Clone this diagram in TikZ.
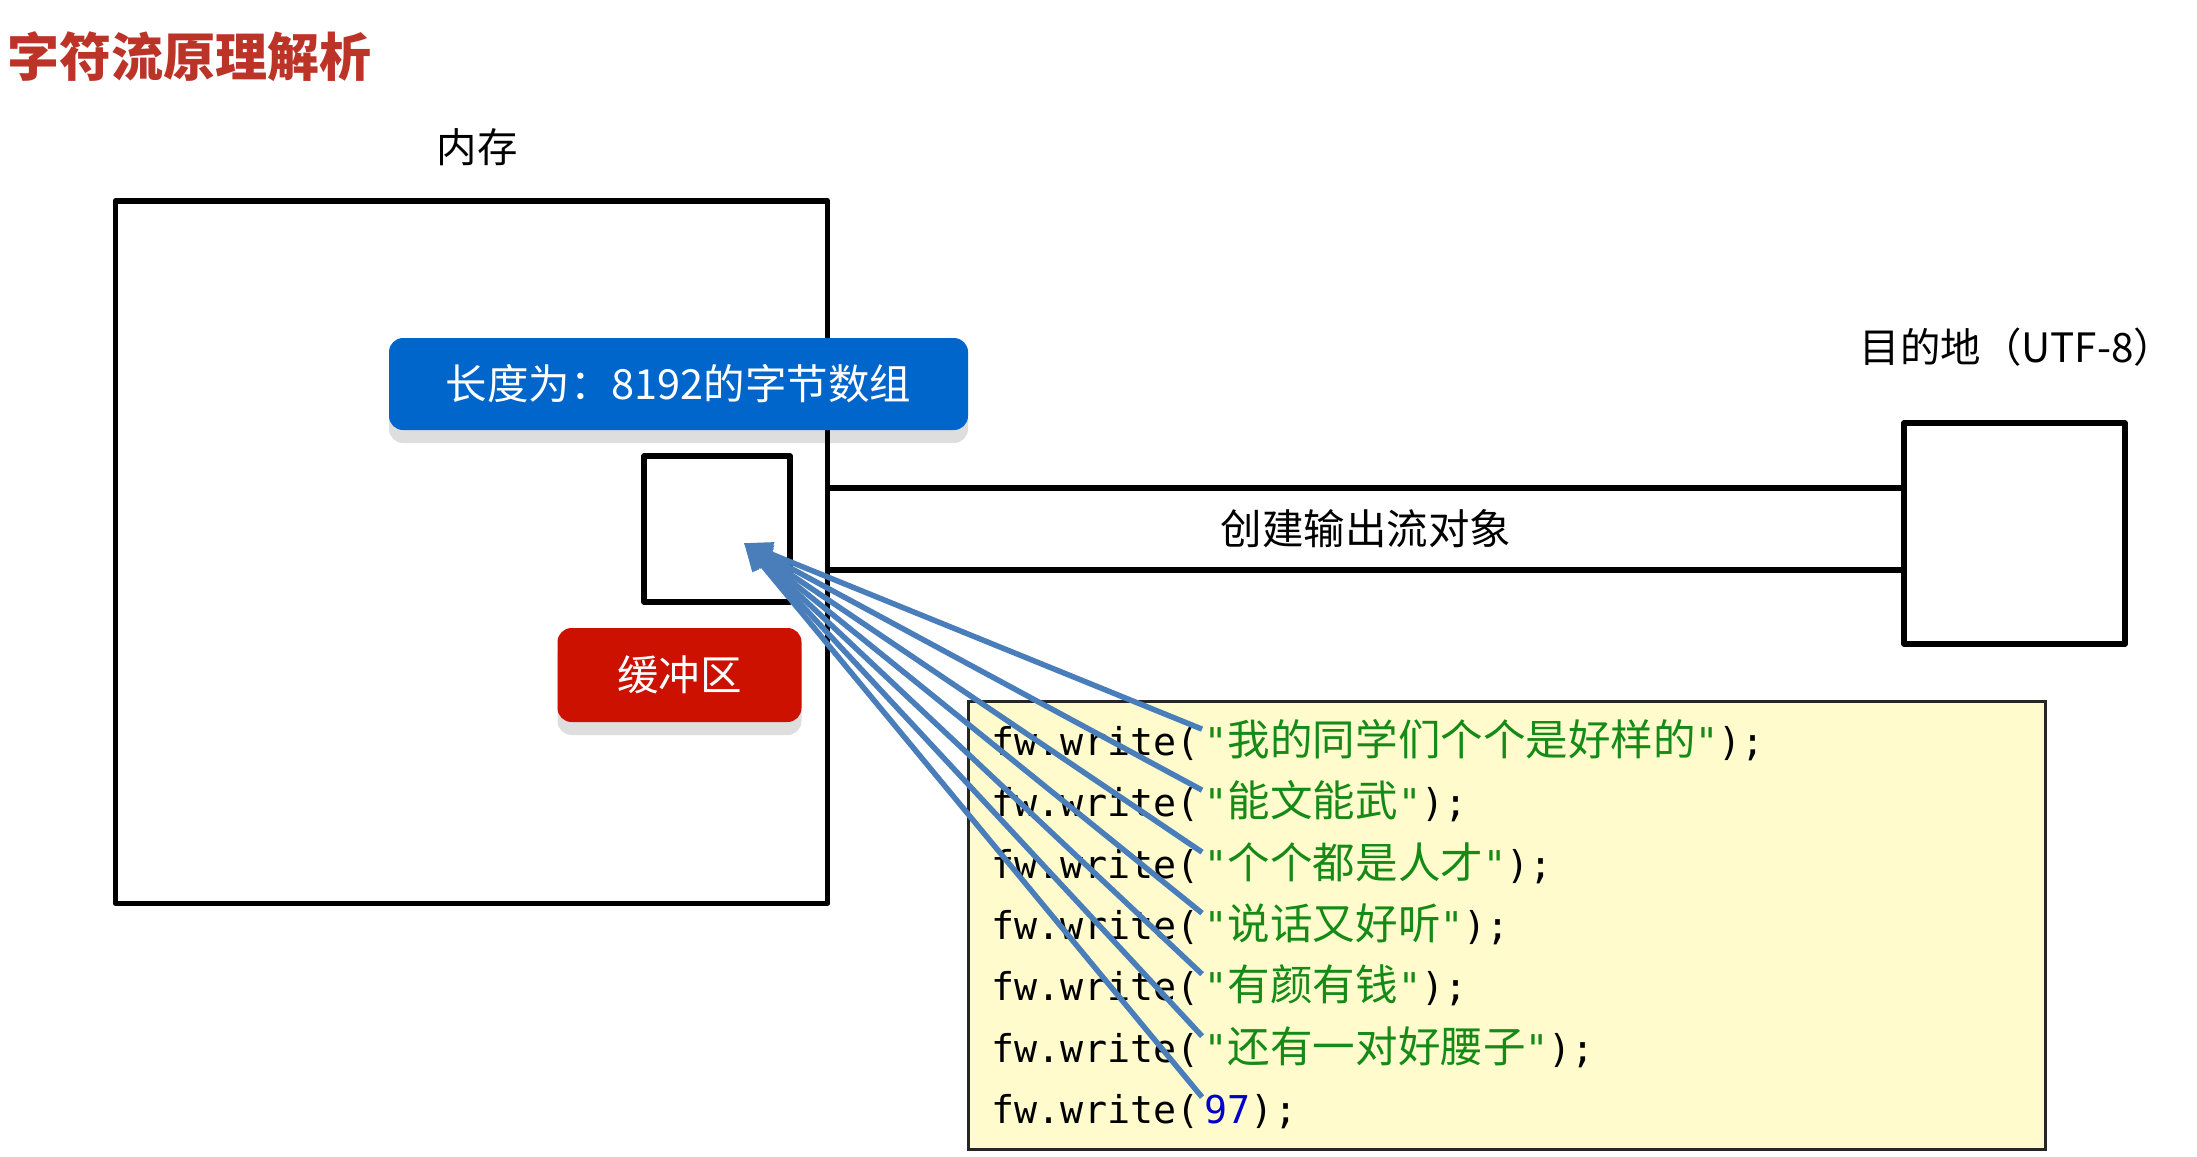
\documentclass[tikz,border=0pt]{standalone}
\usepackage{fontspec}
\setmainfont{Noto Sans CJK SC}
\setmonofont{DejaVu Sans Mono}
\newfontfamily\cjk{Noto Sans CJK SC}
\usetikzlibrary{arrows.meta, shadows}
\definecolor{cred}{HTML}{BC3328}
\definecolor{cblue}{HTML}{0066CC}
\definecolor{cbuf}{HTML}{CC1100}
\definecolor{cline}{HTML}{4A7EBB}
\definecolor{ccode}{HTML}{FFFBCC}
\definecolor{cstr}{HTML}{168A16}
\definecolor{cnum}{HTML}{0000C8}
\newcommand{\strlit}[1]{\textcolor{cstr}{"{\cjk\fontsize{12.1pt}{14pt}\selectfont #1}"}}
\newcommand{\numlit}[1]{\textcolor{cnum}{#1}}
\tikzset{
  every picture/.style={line width=0.55mm},
  frame/.style={draw, line join=round, inner sep=0pt},
  tag/.style={fill=#1, rounded corners=1.4mm, text=white, inner sep=0pt,
    font=\fontsize{11.8pt}{14pt}\selectfont,
    drop shadow={shadow xshift=0mm, shadow yshift=-1.3mm, fill=black, opacity=0.13}},
  lbl/.style={font=\fontsize{11.5pt}{14pt}\selectfont},
  call/.style={font=\ttfamily\fontsize{10.9pt}{13pt}\selectfont, inner sep=0pt, anchor=base west},
  feed/.style={-{Triangle[length=2.8mm, width=2.3mm]}, draw=cline, line width=0.55mm},
}

\begin{document}
\begin{tikzpicture}[x=0.1mm, y=-0.1mm]
  \useasboundingbox (0,0) rectangle (2197,1156);
  \node[anchor=west, inner sep=0pt, text=cred, font=\bfseries\fontsize{14.8pt}{17pt}\selectfont] (title) at (5,57) {字符流原理解析};
  % memory side
  \node[lbl] (memlbl) at (477,147) {内存};
  \node[frame, minimum width=71.2mm, minimum height=70.25mm] (mem) at (471.5,552) {};
  \node[tag=cblue, minimum width=57.9mm, minimum height=9.2mm] (arr) at (678.5,384) {长度为：8192的字节数组};
  \node[frame, minimum size=14.6mm] (buf) at (717,529) {};
  \node[tag=cbuf, minimum width=24.4mm, minimum height=9.4mm] (bufname) at (679.5,675) {缓冲区};
  % destination
  \node[lbl] (dstlbl) at (2017,347) {目的地（UTF-8）};
  \node[frame, minimum size=22.1mm] (dst) at (2014.5,533.5) {};
  % output stream between them
  \node[font=\fontsize{11.8pt}{14pt}\selectfont, minimum height=8.2mm, inner sep=0pt, outer sep=0pt] (stream) at (1366,529) {创建输出流对象};
  \draw (mem.east |- stream.north) -- (dst.west |- stream.north);
  \draw (mem.east |- stream.south) -- (dst.west |- stream.south);
  % code
  \node[draw=black!85, line width=0.3mm, fill=ccode, minimum width=107.7mm, minimum height=44.8mm] (code) at (1506.5,925) {};
  \node[call] (c1) at (989,755) {fw.write(};
  \node[call] (s1) at (c1.base east) {\strlit{我的同学们个个是好样的});};
  \node[call] (c2) at (989,816) {fw.write(};
  \node[call] (s2) at (c2.base east) {\strlit{能文能武});};
  \node[call] (c3) at (989,878) {fw.write(};
  \node[call] (s3) at (c3.base east) {\strlit{个个都是人才});};
  \node[call] (c4) at (989,939) {fw.write(};
  \node[call] (s4) at (c4.base east) {\strlit{说话又好听});};
  \node[call] (c5) at (989,1000) {fw.write(};
  \node[call] (s5) at (c5.base east) {\strlit{有颜有钱});};
  \node[call] (c6) at (989,1062) {fw.write(};
  \node[call] (s6) at (c6.base east) {\strlit{还有一对好腰子});};
  \node[call] (c7) at (989,1123) {fw.write(};
  \node[call] (s7) at (c7.base east) {\numlit{97});};
  % every write goes into the buffer
  \coordinate (tip) at ([shift={(27,14)}]buf.center);
  \draw[feed] ([yshift=-0.6mm]c1.north east) -- (tip);
  \draw[feed] ([yshift=-0.6mm]c2.north east) -- (tip);
  \draw[feed] ([yshift=-0.6mm]c3.north east) -- (tip);
  \draw[feed] ([yshift=-0.6mm]c4.north east) -- (tip);
  \draw[feed] ([yshift=-0.6mm]c5.north east) -- (tip);
  \draw[feed] ([yshift=-0.6mm]c6.north east) -- (tip);
  \draw[feed] ([yshift=-0.6mm]c7.north east) -- (tip);
\end{tikzpicture}
\end{document}
